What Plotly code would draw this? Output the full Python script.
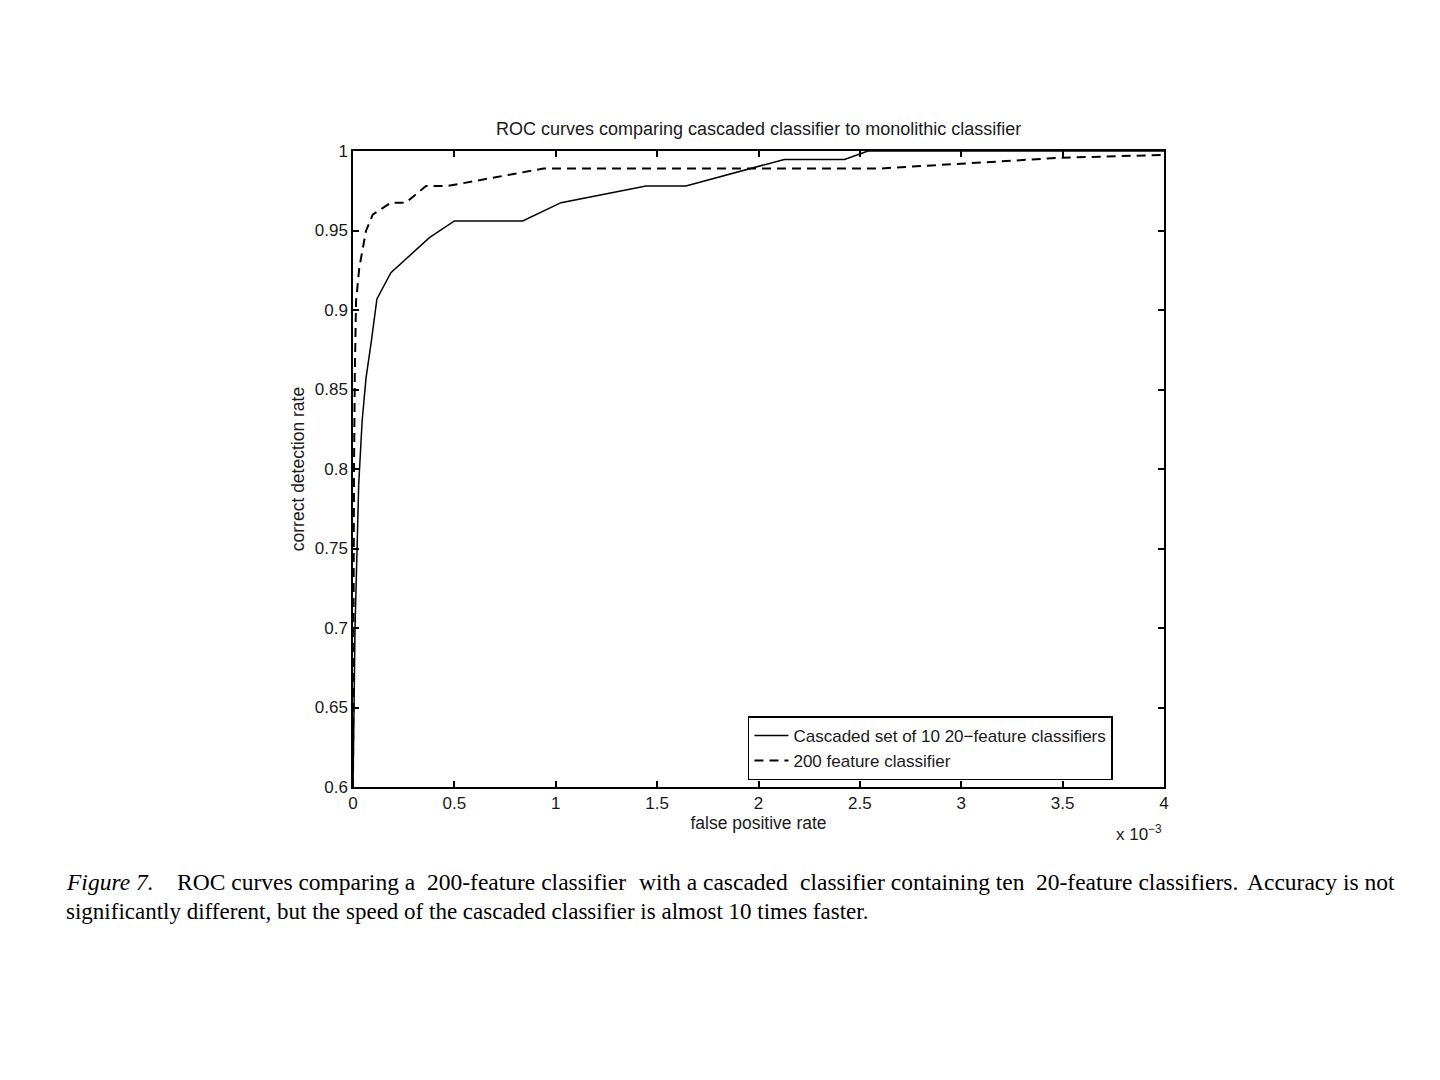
"""ROC curves: cascaded classifier vs monolithic 200-feature classifier."""

import plotly.graph_objects as go

# false positive rate in units of 1e-3, detection rate as a fraction
cascade_fpr = [0, 0.005, 0.01, 0.018, 0.028, 0.045, 0.064, 0.09, 0.118, 0.187,
               0.377, 0.5, 0.837, 1.026, 1.445, 1.642, 1.98, 2.127, 2.424, 2.54, 4.0]
cascade_tpr = [0.6, 0.65, 0.7, 0.74, 0.79, 0.83, 0.857, 0.88, 0.907, 0.9235,
               0.9455, 0.956, 0.956, 0.9675, 0.978, 0.978, 0.9895, 0.9947, 0.9947, 1.0, 1.0]

mono_fpr = [0, 0.002, 0.005, 0.009, 0.015, 0.031, 0.064, 0.097, 0.187, 0.261,
            0.36, 0.467, 0.729, 0.94, 2.6, 3.0, 3.5, 4.0]
mono_tpr = [0.6, 0.7, 0.8, 0.86, 0.9056, 0.9266, 0.9497, 0.96, 0.9675, 0.9675,
            0.978, 0.978, 0.984, 0.989, 0.989, 0.9922, 0.9958, 0.9975]

x_ticks = [0, 0.5, 1, 1.5, 2, 2.5, 3, 3.5, 4]
x_labels = ["0", "0.5", "1", "1.5", "2", "2.5", "3", "3.5", "4"]
y_ticks = [0.6, 0.65, 0.7, 0.75, 0.8, 0.85, 0.9, 0.95, 1.0]
y_labels = ["0.6", "0.65", "0.7", "0.75", "0.8", "0.85", "0.9", "0.95", "1"]

series_names = ["Cascaded set of 10 20\u2212feature classifiers", "200 feature classifier"]

title = "ROC curves comparing cascaded classifier to monolithic classifier"
# caption line 1 is justified in the original, so it is set in pieces
caption_1 = ["<i>Figure 7.</i>", "ROC curves comparing a", "200-feature classifier",
             "with a cascaded", "classifier containing ten", "20-feature classifiers.",
             "Accuracy is not"]
caption_1_left_px = [65, 176, 426, 638, 799, 1035, None]   # last piece is right-aligned
caption_1_right_px = 1393
caption_2 = ("significantly different, but the speed of the cascaded classifier is almost "
             "10 times faster.")

INK = "#1a1a1a"
SANS = "Liberation Sans, Arial, sans-serif"
SERIF = "Liberation Serif, Times New Roman, serif"

PLOT_LEFT, PLOT_W = 352, 811   # page pixels of the plotting box


def page_x(px, bearing=2.5):
    return (px - bearing - PLOT_LEFT) / PLOT_W


fig = go.Figure()
fig.add_trace(go.Scatter(x=cascade_fpr, y=cascade_tpr, mode="lines", name=series_names[0],
                         line=dict(color="black", width=1.5)))
fig.add_trace(go.Scatter(x=mono_fpr, y=mono_tpr, mode="lines", name=series_names[1],
                         line=dict(color="black", width=2, dash="9px,6px")))

axis_common = dict(
    showline=True, linecolor="black", linewidth=1.5, mirror="allticks",
    ticks="inside", ticklen=6, tickwidth=1.5, tickcolor="black",
    showgrid=False, zeroline=False,
    tickfont=dict(family=SANS, size=17, color=INK),
)

fig.update_xaxes(range=[0, 4], tickvals=x_ticks, ticktext=x_labels,
                 title=dict(text="false positive rate", font=dict(family=SANS, size=17.5, color=INK),
                            standoff=5),
                 **axis_common)
fig.update_yaxes(range=[0.6, 1.0], tickvals=y_ticks, ticktext=y_labels,
                 title=dict(text="correct detection rate", font=dict(family=SANS, size=17.5, color=INK),
                            standoff=6),
                 **axis_common)

fig.add_annotation(text=title, xref="paper", yref="paper", x=0.5, y=1.0, yshift=10,
                   xanchor="center", yanchor="bottom", showarrow=False,
                   font=dict(family=SANS, size=18, color=INK))
fig.add_annotation(text="x 10<sup>\u22123</sup>", xref="paper", yref="paper", x=1.0, y=0,
                   yshift=-33, xanchor="right", yanchor="top", showarrow=False,
                   font=dict(family=SANS, size=17, color=INK))

cap_font = dict(family=SERIF, size=23.5, color="black")
for piece, left in zip(caption_1, caption_1_left_px):
    if left is None:
        x, anchor = page_x(caption_1_right_px, bearing=-2.5), "right"
    else:
        x, anchor = page_x(left), "left"
    fig.add_annotation(text=piece, xref="paper", yref="paper", x=x, y=0, yshift=-80,
                       xanchor=anchor, yanchor="top", showarrow=False, font=cap_font)
fig.add_annotation(text=caption_2, xref="paper", yref="paper", x=page_x(65), y=0, yshift=-110,
                   xanchor="left", yanchor="top", showarrow=False,
                   font=dict(family=SERIF, size=23, color="black"))

fig.update_layout(
    width=1440, height=1080,
    margin=dict(l=345, r=284, t=143, b=301),
    paper_bgcolor="white", plot_bgcolor="white",
    showlegend=True,
    legend=dict(x=0.487, y=0.111, xanchor="left", yanchor="top",
                bordercolor="black", borderwidth=1.5, bgcolor="white",
                font=dict(family=SANS, size=17, color=INK),
                tracegroupgap=0, itemwidth=34),
)

fig.write_html("out.html")
